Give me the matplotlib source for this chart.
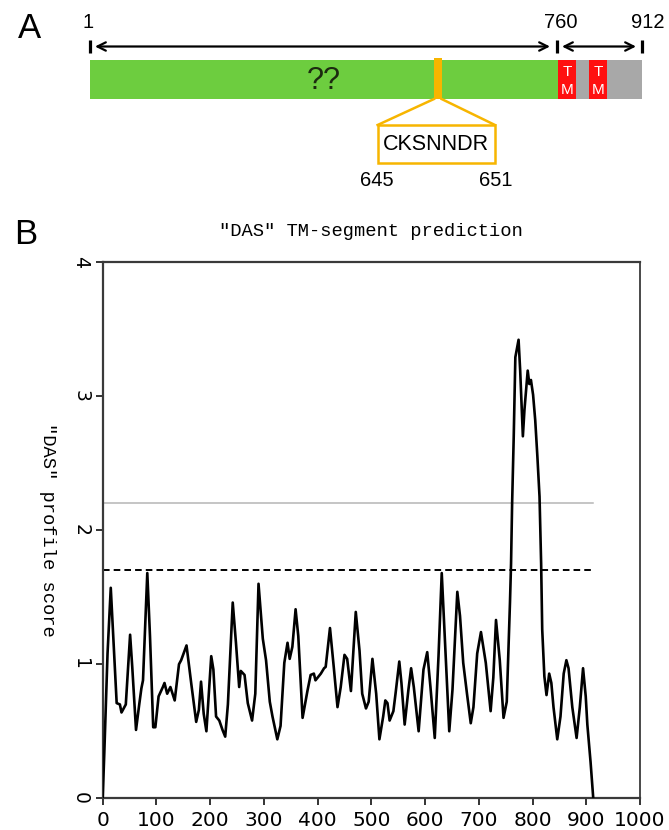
import matplotlib
matplotlib.use("Agg")
import matplotlib.pyplot as plt
from matplotlib.patches import Rectangle

# ---------------- data ----------------
residue = [0, 3, 9, 15, 26, 32, 35, 43, 51, 55, 62, 68, 72, 75, 83, 88, 94, 98,
           104, 112, 115, 120, 126, 134, 142, 146, 156, 165, 174, 179, 183, 188,
           193, 202, 206, 211, 217, 223, 228, 233, 242, 248, 254, 257, 264, 270,
           278, 284, 290, 298, 304, 311, 316, 325, 331, 338, 344, 348, 353, 359,
           364, 372, 381, 387, 393, 396, 406, 412, 415, 423, 430, 437, 443, 450,
           455, 462, 471, 478, 483, 490, 495, 502, 509, 515, 522, 526, 530, 534,
           541, 545, 552, 556, 562, 569, 574, 579, 588, 597, 604, 610, 618, 625,
           631, 637, 645, 651, 660, 665, 671, 678, 685, 690, 697, 704, 713, 722,
           727, 732, 739, 746, 752, 758, 760, 762, 765, 768, 774, 777, 782, 785,
           791, 794, 797, 801, 805, 809, 813, 816, 818, 822, 826, 831, 835, 839,
           846, 852, 858, 863, 867, 874, 882, 888, 894, 899, 902, 908, 913]
das_score = [0.0, 0.34, 1.08, 1.57, 0.71, 0.70, 0.64, 0.70, 1.22, 0.98, 0.51, 0.70,
             0.82, 0.88, 1.68, 1.21, 0.53, 0.53, 0.76, 0.83, 0.86, 0.78, 0.83, 0.73,
             1.00, 1.03, 1.14, 0.85, 0.57, 0.66, 0.87, 0.63, 0.50, 1.06, 0.96, 0.61,
             0.58, 0.51, 0.46, 0.70, 1.46, 1.16, 0.83, 0.95, 0.92, 0.71, 0.58, 0.78,
             1.60, 1.19, 1.03, 0.72, 0.61, 0.44, 0.54, 1.01, 1.16, 1.04, 1.13, 1.41,
             1.21, 0.60, 0.80, 0.92, 0.93, 0.88, 0.93, 0.97, 0.98, 1.27, 0.98, 0.68,
             0.83, 1.07, 1.04, 0.80, 1.39, 1.10, 0.78, 0.67, 0.72, 1.04, 0.78, 0.44,
             0.61, 0.73, 0.71, 0.58, 0.65, 0.78, 1.02, 0.86, 0.55, 0.81, 0.97, 0.83,
             0.50, 0.96, 1.09, 0.83, 0.45, 1.06, 1.68, 1.18, 0.50, 0.81, 1.54, 1.36,
             1.01, 0.78, 0.56, 0.68, 1.08, 1.24, 1.01, 0.65, 0.90, 1.33, 1.03, 0.60,
             0.72, 1.46, 1.75, 2.20, 2.70, 3.29, 3.42, 3.19, 2.70, 2.90, 3.19, 3.09,
             3.12, 3.01, 2.82, 2.55, 2.25, 1.75, 1.26, 0.91, 0.77, 0.93, 0.86, 0.68,
             0.44, 0.61, 0.93, 1.03, 0.97, 0.68, 0.45, 0.68, 0.97, 0.76, 0.55, 0.27,
             0.0]
strict_cutoff = 2.2
loose_cutoff = 1.7
seq_length = 912
x_ticks = [0, 100, 200, 300, 400, 500, 600, 700, 800, 900, 1000]
y_ticks = [0, 1, 2, 3, 4]

domain_labels = ["1", "760", "912"]
motif = "CKSNNDR"
motif_start_end = ["645", "651"]
unknown_label = "??"

# ---------------- figure ----------------
W, H = 669, 830
fig = plt.figure(figsize=(W / 100, H / 100), dpi=100)
sans = ["Liberation Sans", "DejaVu Sans"]
mono = ["Liberation Mono", "DejaVu Sans Mono"]

# ---- panel A (schematic, layout in pixel units) ----
ax0 = fig.add_axes([0, 1 - 200 / H, 1, 200 / H])
ax0.set_xlim(0, W)
ax0.set_ylim(200, 0)
ax0.axis("off")

ax0.text(29, 29, "A", fontsize=25, family=sans, ha="center", va="center")
green, red, grey, orange = "#6dcd3f", "#ff1010", "#a8a8a8", "#f7b500"
bar_top, bar_h = 60, 38.7
ax0.add_patch(Rectangle((89.6, bar_top), 557.5 - 89.6, bar_h, color=green, lw=0))
ax0.add_patch(Rectangle((557.5, bar_top), 84.5, bar_h, color=grey, lw=0))
for x0 in (558, 589):
    ax0.add_patch(Rectangle((x0, bar_top), 18, bar_h, color=red, lw=0))
    ax0.text(x0 + 9, 71.5, "T", color="white", fontsize=11, family=sans,
             ha="center", va="center")
    ax0.text(x0 + 9, 89.5, "M", color="white", fontsize=11, family=sans,
             ha="center", va="center")
ax0.text(324, 81, unknown_label, fontsize=22, family=sans, color="#1c2a10",
         ha="center", va="center")

# boundary ticks and arrows
for xt, xl, lab in zip((89.6, 557, 642), (88, 561, 648), domain_labels):
    ax0.plot([xt, xt], [40, 53], color="black", lw=2.3, solid_capstyle="butt")
    ax0.text(xl, 23, lab, fontsize=14.5, family=sans, ha="center", va="center")
for xa, xb in ((95, 550), (562, 636)):
    ax0.annotate("", xy=(xb, 46.5), xytext=(xa, 46.5),
                 arrowprops=dict(arrowstyle="<->,head_length=0.6,head_width=0.3",
                                 lw=1.6, color="black", shrinkA=0, shrinkB=0))

# motif marker and zoom box
ax0.add_patch(Rectangle((434, 58), 7.6, 41, color=orange, lw=0, zorder=3))
ax0.plot([434, 377.6], [99, 125], color=orange, lw=1.8)
ax0.plot([441.6, 495], [99, 125], color=orange, lw=1.8)
ax0.add_patch(Rectangle((377.6, 125), 495 - 377.6, 38, facecolor="white",
                        edgecolor=orange, lw=1.8))
ax0.text(436, 144.5, motif, fontsize=15.5, family=sans, ha="center", va="center")
ax0.text(377, 181, motif_start_end[0], fontsize=14.5, family=sans,
         ha="center", va="center")
ax0.text(496, 181, motif_start_end[1], fontsize=14.5, family=sans,
         ha="center", va="center")

# ---- panel B (DAS profile) ----
left, right, top, bottom = 102.7, 640, 262, 798.3
ax = fig.add_axes([left / W, 1 - bottom / H, (right - left) / W, (bottom - top) / H])
ax.plot(residue, das_score, color="black", lw=1.9, zorder=3,
        solid_joinstyle="round")
ax.plot([0, seq_length], [strict_cutoff, strict_cutoff], color="#b5b5b5", lw=1.1)
ax.plot([0, seq_length + 3], [loose_cutoff, loose_cutoff], color="black", lw=1.4,
        dashes=(3.4, 2.1))
ax.set_xlim(0, 1000)
ax.set_ylim(0, 4)
ax.set_xticks(x_ticks)
ax.set_yticks(y_ticks)
ax.set_xticklabels([str(v) for v in x_ticks])
ax.set_yticklabels([str(v) for v in y_ticks], rotation=270, va="center")
ax.tick_params(direction="out", length=5, width=1.4, color="#333333", pad=4)
ax.tick_params(axis="x", labelsize=14.5)
ax.tick_params(axis="y", labelsize=13.5)
for name, sp in ax.spines.items():
    sp.set_color("#3a3a3a")
    sp.set_linewidth(1.6 if name in ("left", "bottom", "top") else 1.3)

fig.text(26 / W, 1 - 235 / H, "B", fontsize=25, family=sans,
         ha="center", va="center")
fig.text(371 / W, 1 - 231 / H, '"DAS" TM-segment prediction', fontsize=13.5,
         family=mono, ha="center", va="center")
fig.text(47 / W, 1 - 530 / H, '"DAS" profile score', fontsize=13.5, family=mono,
         rotation=270, ha="center", va="center")

fig.savefig("out.png", dpi=100)
